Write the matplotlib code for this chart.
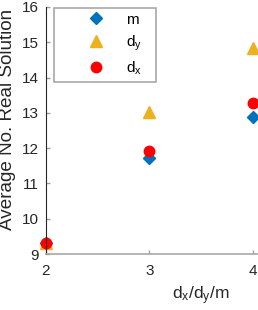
import numpy as np
import matplotlib.pyplot as plt

plt.rcParams['font.family'] = ['Liberation Sans', 'DejaVu Sans']
plt.rcParams['mathtext.fontset'] = 'custom'
plt.rcParams['mathtext.rm'] = 'Liberation Sans'
plt.rcParams['mathtext.it'] = 'Liberation Sans'

# data
x = [2, 3, 4]
m = [9.32, 11.73, 12.88]
d_y = [9.32, 13.03, 14.85]
d_x = [9.32, 11.93, 13.27]
labels = ['m', r'd$_\mathregular{y}$', r'd$_\mathregular{x}$']

fig = plt.figure(figsize=(2.58, 3.10), dpi=100)
# axes runs past the right edge (picture is cropped)
ax = fig.add_axes([46/258, 56/310, 310/258, 247/310])

ax.plot(x, m, 'D', color='#0072BD', markersize=6.5, linestyle='none', label=labels[0], clip_on=False)
ax.plot(x, d_y, '^', color='#EDB120', markersize=8, linestyle='none', label=labels[1], clip_on=False)
ax.plot(x, d_x, 'o', color='#FF0000', markersize=7.5, linestyle='none', label=labels[2], clip_on=False)

ax.set_xlim(2, 5)
ax.set_ylim(9, 16)
ax.set_xticks([2, 3, 4])
ax.set_yticks([9, 10, 11, 12, 13, 14, 15, 16])
ax.tick_params(direction='in', length=3, width=1, colors='#a0a0a0', labelcolor='#262626', labelsize=11)
ax.tick_params(axis='x', pad=7)
ax.tick_params(axis='y', pad=5)

ax.spines['top'].set_visible(False)
ax.spines['right'].set_visible(False)
ax.spines['left'].set_color('#262626')
ax.spines['left'].set_linewidth(0.8)
ax.spines['bottom'].set_color('#a8a8a8')
ax.spines['bottom'].set_linewidth(1.2)

ax.set_xlabel(r'd$_\mathregular{x}$/d$_\mathregular{y}$/m', fontsize=12.5, color='#262626', labelpad=5)
ax.set_ylabel('Average No. Real Solution', fontsize=13.6, color='#262626')
ax.yaxis.set_label_coords(16/258, (310 - 119)/310, transform=fig.transFigure)

leg = ax.legend(loc='upper left', bbox_to_anchor=(54/258, 229/310, 102/258, 73/310),
                bbox_transform=fig.transFigure, mode='expand',
                borderaxespad=0, fancybox=False, edgecolor='#a8a8a8', fontsize=11,
                handletextpad=-0.5, labelspacing=0.45, borderpad=0.3, handlelength=4.9)
leg.get_frame().set_linewidth(1.2)
leg.get_frame().set_alpha(1)

fig.savefig('out.png', dpi=100)
